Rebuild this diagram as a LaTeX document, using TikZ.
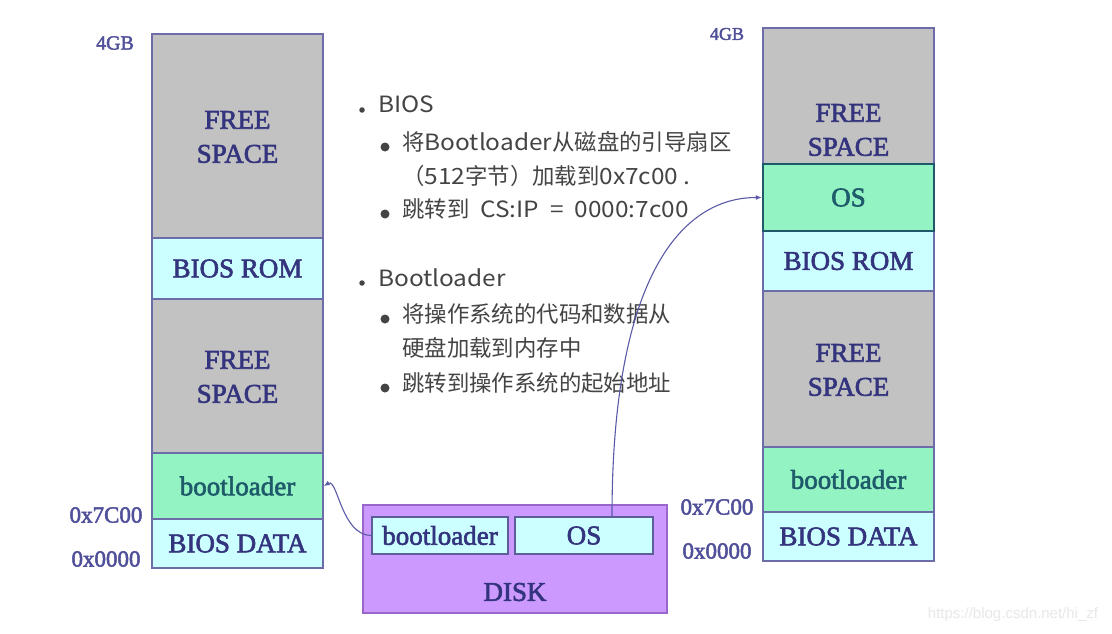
\documentclass[tikz,border=0pt]{standalone}
\usepackage{fontspec}
\setmainfont{Liberation Serif}[FakeBold=2.2]
\newfontfamily\cjk{Noto Sans CJK SC}
\newfontfamily\lat[FakeStretch=1.09]{Noto Sans CJK SC}
\newfontfamily\wmfont{Liberation Sans}
\usetikzlibrary{arrows.meta}
\definecolor{grayfill}{HTML}{C2C2C2}
\definecolor{edge}{HTML}{6C6CA8}
\definecolor{cyanfill}{HTML}{CCFFFF}
\definecolor{greenfill}{HTML}{93F3C3}
\definecolor{diskfill}{HTML}{CC99FF}
\definecolor{diskedge}{HTML}{9966CC}
\definecolor{navy}{HTML}{34347E}
\definecolor{teal}{HTML}{1E5A6A}
\definecolor{lbl}{HTML}{50509A}
\definecolor{bodytext}{HTML}{444444}
\definecolor{wire}{HTML}{5A5AA8}
\begin{document}
\begin{tikzpicture}[x=1pt,y=-1pt,
  mem/.style={draw=edge, line width=1.3pt, inner sep=0pt, minimum width=171pt, minimum height=#1},
  freebox/.style={mem=#1, fill=grayfill},
  cyanbox/.style={mem=#1, fill=cyanfill, text=navy, font=\fontsize{27}{32}\selectfont},
  greenbox/.style={mem=#1, fill=greenfill, text=teal, font=\fontsize{27}{32}\selectfont},
  freetxt/.style={text=navy, align=center, font=\fontsize{27}{34}\selectfont},
  addr/.style={text=lbl, font=\fontsize{23}{26}\selectfont},
  body/.style={text=bodytext, anchor=west, font=\cjk\fontsize{22.4}{26}\selectfont, inner sep=0pt, text height=0.8em, text depth=0.2em},
  dotA/.style={circle, fill=bodytext, inner sep=0pt, minimum size=5.5pt},
  dotB/.style={circle, fill=bodytext, inner sep=0pt, minimum size=9pt},
  conn/.style={draw=wire, line width=1.1pt, -{Latex[length=6pt,width=5pt]}}]
\useasboundingbox (0,0) rectangle (1112,634);
\fill[white] (0,0) rectangle (1112,634);

% left memory column
\node[freebox=204pt] (lfree1) at (237.5,136) {};
\node[cyanbox=61pt] (lrom) at (237.5,268.5) {BIOS ROM};
\node[freebox=154pt] (lfree2) at (237.5,376) {};
\node[greenbox=66pt] (lboot) at (237.5,486) {bootloader};
\node[cyanbox=49pt] (ldata) at (237.5,543.5) {BIOS DATA};
\node[freetxt] (lfreet1) at (237.5,137) {FREE\\SPACE};
\node[freetxt] (lfreet2) at (237.5,377) {FREE\\SPACE};
\node[addr] (l4gb) at (115,43) {\fontsize{20}{24}\selectfont 4GB};
\node[addr] (l7c) at (106,515) {0x7C00};
\node[addr] (l00) at (106,559) {0x0000};

% right memory column
\node[freebox=136pt] (rfree1) at (848.5,96) {};
\node[freebox=156pt] (rfree2) at (848.5,369) {};
\node[cyanbox=60pt] (rrom) at (848.5,261) {BIOS ROM};
\node[greenbox=67pt, draw=teal, line width=2.4pt] (ros) at (848.5,197.5) {OS};
\node[greenbox=65pt] (rboot) at (848.5,479.5) {bootloader};
\node[cyanbox=49pt] (rdata) at (848.5,536.5) {BIOS DATA};
\node[freetxt] (rfreet1) at (848.5,130) {FREE\\SPACE};
\node[freetxt] (rfreet2) at (848.5,370) {FREE\\SPACE};
\node[addr] (r4gb) at (727,34) {\fontsize{18}{22}\selectfont 4GB};
\node[addr] (r7c) at (717,507) {0x7C00};
\node[addr] (r00) at (717,551) {0x0000};

% disk
\node[draw=diskedge, fill=diskfill, line width=1.3pt, minimum width=304pt, minimum height=108pt, inner sep=0pt] (disk) at (515,559) {};
\node[cyanbox=37pt, minimum width=136pt, draw=navy!80, line width=1.4pt] (dboot) at (440,535.5) {bootloader};
\node[cyanbox=37pt, minimum width=138pt, draw=navy!80, line width=1.4pt] (dos) at (584,535.5) {OS};
\node[text=navy, font=\fontsize{27}{32}\selectfont] (disklbl) at (515,592) {DISK};

% bullet text
\node[dotA] (b1) at (362,110) {};
\node[body] (t1) at (378,110) {{\lat BIOS}};
\node[dotB] (b2) at (385,147) {};
\node[body] (t2) at (402,147) {将{\lat Bootloader}从磁盘的引导扇区};
\node[body] (t3) at (402,181) {（{\lat 512}字节）加载到{\lat 0x7c00 .}};
\node[dotB] (b4) at (385,214) {};
\node[body] (t4) at (402,214) {跳转到{\lat\ \ CS:IP \ =\ \ 0000:7c00}};
\node[dotA] (b5) at (362,283) {};
\node[body] (t5) at (378,283) {{\lat Bootloader}};
\node[dotB] (b6) at (385,319) {};
\node[body] (t6) at (402,319) {将操作系统的代码和数据从};
\node[body] (t7) at (402,353) {硬盘加载到内存中};
\node[dotB] (b8) at (385,388) {};
\node[body] (t8) at (402,388) {跳转到操作系统的起始地址};

% connectors
\draw[conn] (dboot.west) .. controls +(-30,0) and +(14,-8) .. (lboot.east);
\draw[conn] ([xshift=28pt]dos.north) .. controls +(0,-240) and +(-80,0) .. (ros.west);

% watermark
\node[text=black!9, font=\wmfont\fontsize{15}{18}\selectfont] (wm) at (1013,615) {https://blog.csdn.net/hi\_zf};
\end{tikzpicture}
\end{document}
